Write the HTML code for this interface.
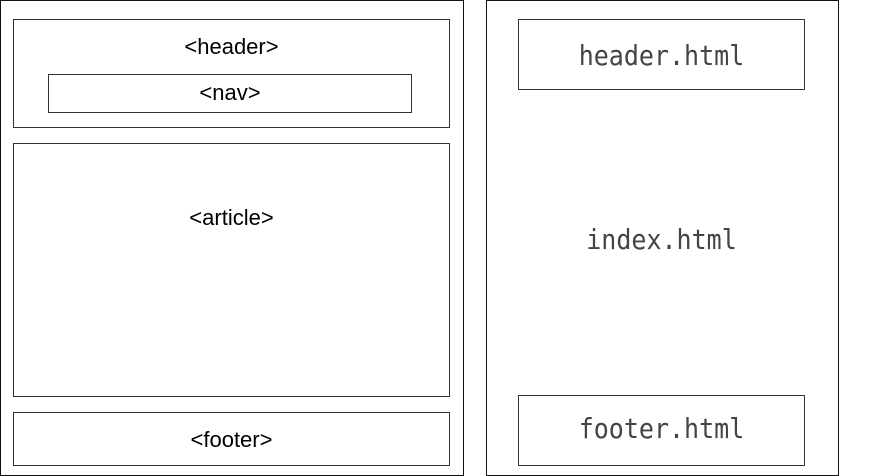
<!DOCTYPE html>
<html><head><style>
body{margin:0;width:872px;height:476px;background:#fff;position:relative;overflow:hidden}
.b{position:absolute;box-sizing:border-box;border:1px solid #333}
.t{position:absolute;text-align:center;font-family:"Liberation Sans",sans-serif;font-size:22px;color:#000;white-space:nowrap}
.m{position:absolute;text-align:center;font-family:"DejaVu Sans Mono","Liberation Mono",monospace;font-size:25px;color:#444;white-space:nowrap;transform:scaleY(1.1)}
</style></head><body>
<div class="b" style="left:0;top:0;width:464px;height:476px;border:1.5px solid #111"></div>
<div class="b" style="left:13px;top:19px;width:437px;height:109px"></div>
<div class="b" style="left:48px;top:74px;width:364px;height:39px"></div>
<div class="b" style="left:13px;top:143px;width:437px;height:254px"></div>
<div class="b" style="left:13px;top:412px;width:437px;height:54px"></div>
<div class="t" style="left:13px;width:437px;top:34px">&lt;header&gt;</div>
<div class="t" style="left:48px;width:364px;top:80px">&lt;nav&gt;</div>
<div class="t" style="left:13px;width:437px;top:205px">&lt;article&gt;</div>
<div class="t" style="left:13px;width:437px;top:427px">&lt;footer&gt;</div>
<div class="b" style="left:486px;top:0;width:353px;height:476px;border:1.5px solid #111"></div>
<div class="b" style="left:518px;top:19px;width:287px;height:71px"></div>
<div class="b" style="left:518px;top:395px;width:287px;height:71px"></div>
<div class="m" style="left:518px;width:287px;top:41px">header.html</div>
<div class="m" style="left:518px;width:287px;top:225px">index.html</div>
<div class="m" style="left:518px;width:287px;top:414px">footer.html</div>
</body></html>
